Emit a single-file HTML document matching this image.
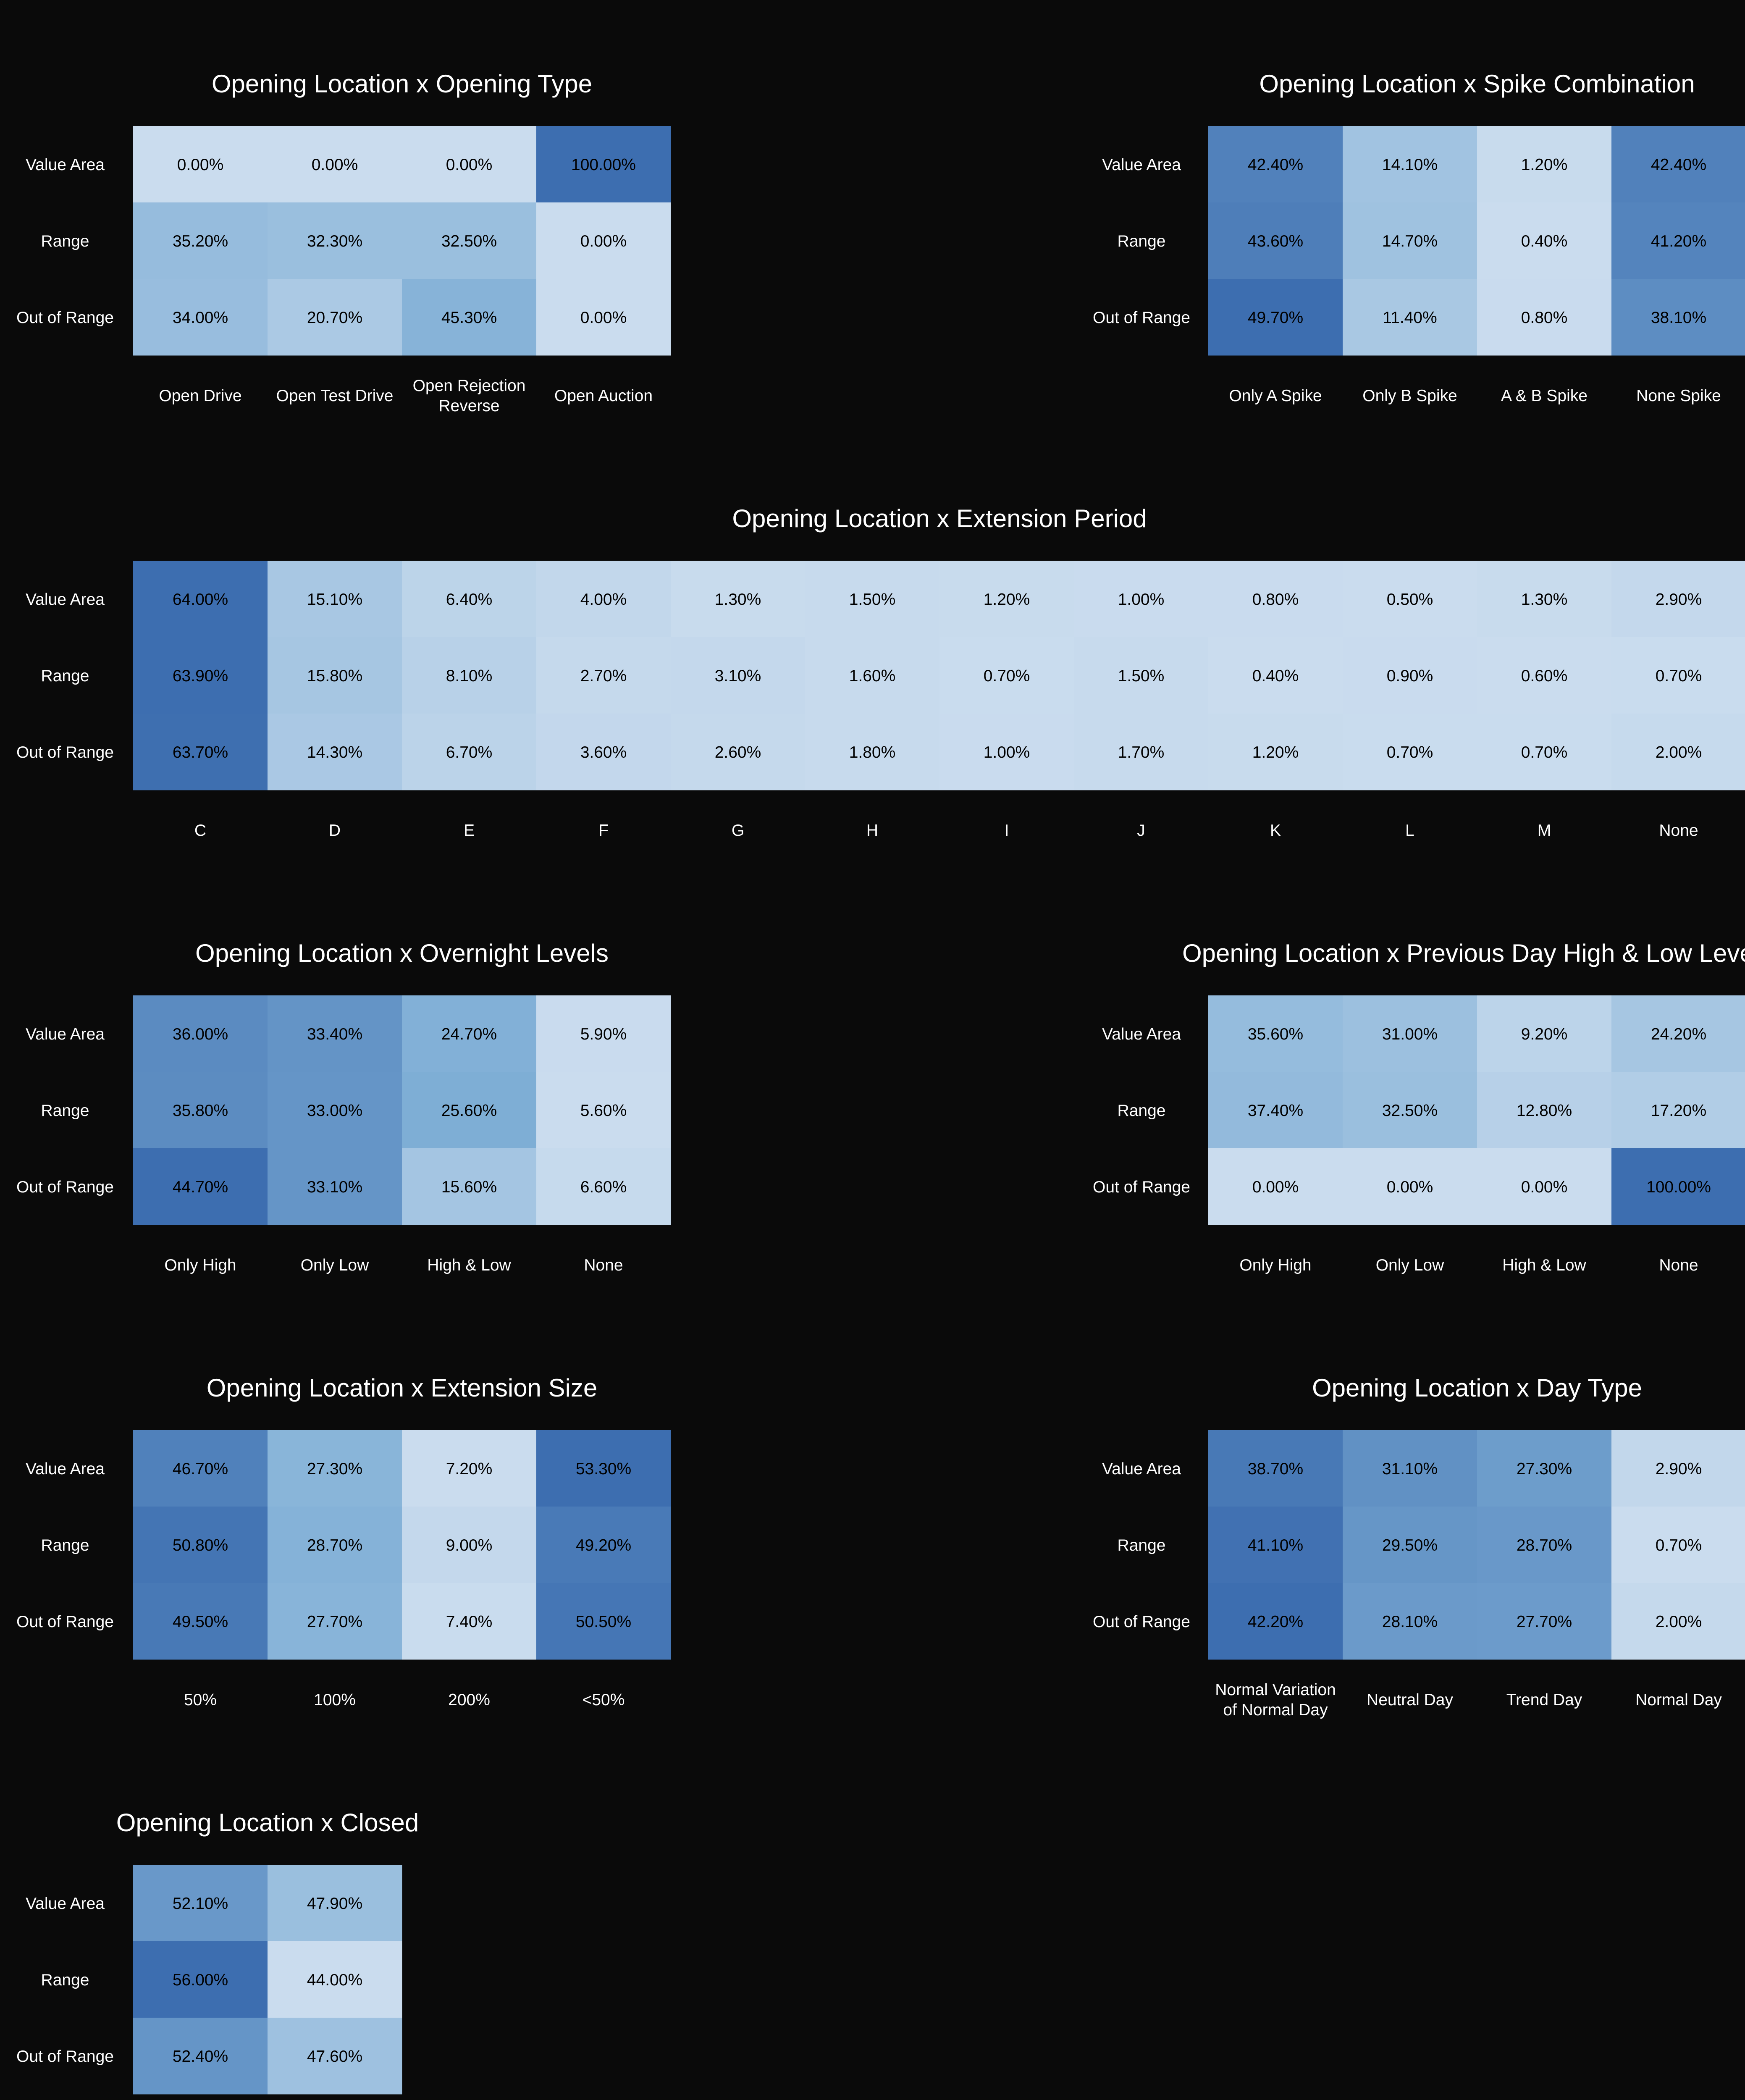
<!DOCTYPE html>
<html><head><meta charset="utf-8">
<style>
html,body{margin:0;padding:0;background:#0a0a0a;overflow:hidden;}
svg{display:block;}
</style></head>
<body>
<svg id="root" width="4155" height="5175" viewBox="0 0 4155 5175" xmlns="http://www.w3.org/2000/svg">
<rect x="0" y="0" width="4155" height="5175" fill="#0a0a0a"/>
</svg>
<script>
const rowLabels = ["Value Area", "Range", "Out of Range"];

const titles1 = "Opening Location x Opening Type";
const cats1 = [["Open Drive"], ["Open Test Drive"], ["Open Rejection", "Reverse"], ["Open Auction"]];
const vals1 = [[0, 0, 0, 100], [35.2, 32.3, 32.5, 0], [34.0, 20.7, 45.3, 0]];

const titles2 = "Opening Location x Spike Combination";
const cats2 = [["Only A Spike"], ["Only B Spike"], ["A & B Spike"], ["None Spike"]];
const vals2 = [[42.4, 14.1, 1.2, 42.4], [43.6, 14.7, 0.4, 41.2], [49.7, 11.4, 0.8, 38.1]];

const titles3 = "Opening Location x Extension Period";
const cats3 = [["C"], ["D"], ["E"], ["F"], ["G"], ["H"], ["I"], ["J"], ["K"], ["L"], ["M"], ["None"]];
const vals3 = [
  [64.0, 15.1, 6.4, 4.0, 1.3, 1.5, 1.2, 1.0, 0.8, 0.5, 1.3, 2.9],
  [63.9, 15.8, 8.1, 2.7, 3.1, 1.6, 0.7, 1.5, 0.4, 0.9, 0.6, 0.7],
  [63.7, 14.3, 6.7, 3.6, 2.6, 1.8, 1.0, 1.7, 1.2, 0.7, 0.7, 2.0]
];

const titles4 = "Opening Location x Overnight Levels";
const cats4 = [["Only High"], ["Only Low"], ["High & Low"], ["None"]];
const vals4 = [[36.0, 33.4, 24.7, 5.9], [35.8, 33.0, 25.6, 5.6], [44.7, 33.1, 15.6, 6.6]];

const titles5 = "Opening Location x Previous Day High & Low Levels";
const cats5 = [["Only High"], ["Only Low"], ["High & Low"], ["None"]];
const vals5 = [[35.6, 31.0, 9.2, 24.2], [37.4, 32.5, 12.8, 17.2], [0, 0, 0, 100]];

const titles6 = "Opening Location x Extension Size";
const cats6 = [["50%"], ["100%"], ["200%"], ["<50%"]];
const vals6 = [[46.7, 27.3, 7.2, 53.3], [50.8, 28.7, 9.0, 49.2], [49.5, 27.7, 7.4, 50.5]];

const titles7 = "Opening Location x Day Type";
const cats7 = [["Normal Variation", "of Normal Day"], ["Neutral Day"], ["Trend Day"], ["Normal Day"]];
const vals7 = [[38.7, 31.1, 27.3, 2.9], [41.1, 29.5, 28.7, 0.7], [42.2, 28.1, 27.7, 2.0]];

const titles8 = "Opening Location x Closed";
const cats8 = [["Value Area"], ["Range"]];
const vals8 = [[52.1, 47.9], [56.0, 44.0], [52.4, 47.6]];

const NS = "http://www.w3.org/2000/svg";
const root = document.getElementById("root");
const CW = 320, RH = 182;

function colorFor(t) {
  const s0 = [202, 220, 238], s1 = [128, 175, 214], s2 = [61, 110, 176];
  let a, b, u;
  if (t < 0.5) { a = s0; b = s1; u = t / 0.5; } else { a = s1; b = s2; u = (t - 0.5) / 0.5; }
  const c = a.map((v, i) => Math.round(v + (b[i] - v) * u));
  return "rgb(" + c.join(",") + ")";
}

function mk(tag, attrs, parent) {
  const el = document.createElementNS(NS, tag);
  for (const k in attrs) el.setAttribute(k, attrs[k]);
  parent.appendChild(el);
  return el;
}

function drawHeatmap(key, title, cats, vals, x0, y0, labelX) {
  const g = mk("g", {}, root);
  
  
  const flat = vals.flat();
  const mn = Math.min(...flat), mx = Math.max(...flat);
  const xScale = j => x0 + j * CW;
  const yScale = i => y0 + i * RH;
  const w = cats.length * CW;
  const t = mk("text", {x: x0 + w / 2, y: y0 - 80, "text-anchor": "middle", fill: "#ffffff",
    "font-family": "'Liberation Sans', sans-serif", "font-size": "60"}, g);
  t.textContent = title;
  
  
  vals.forEach((row, i) => {
    row.forEach((v, j) => {
      const tt = mx === mn ? 0 : (v - mn) / (mx - mn);
      const r = mk("rect", {x: xScale(j), y: yScale(i), width: CW + 0.5, height: RH + 0.5, fill: colorFor(tt)}, g);
      
      
      const tx = mk("text", {x: xScale(j) + CW / 2, y: yScale(i) + RH / 2 + 14, "text-anchor": "middle", fill: "#000000",
        "font-family": "'Liberation Sans', sans-serif", "font-size": "39"}, g);
      tx.textContent = v.toFixed(2) + "%";
      
      
    });
  });
  rowLabels.forEach((lab, i) => {
    const tx = mk("text", {x: labelX, y: yScale(i) + RH / 2 + 14, "text-anchor": "middle", fill: "#ffffff",
      "font-family": "'Liberation Sans', sans-serif", "font-size": "39"}, g);
    tx.textContent = lab;
    
    
  });
  cats.forEach((lines, j) => {
    const cy = y0 + 3 * RH + 95;
    const n = lines.length;
    lines.forEach((ln, k) => {
      const tx = mk("text", {x: xScale(j) + CW / 2, y: cy + 14 + (k - (n - 1) / 2) * 48, "text-anchor": "middle", fill: "#ffffff",
        "font-family": "'Liberation Sans', sans-serif", "font-size": "39"}, g);
      tx.textContent = ln;
      
      
    });
  });
}

drawHeatmap("opening-type", titles1, cats1, vals1, 317, 300, 155);
drawHeatmap("spike-combination", titles2, cats2, vals2, 2877, 300, 2718);
drawHeatmap("extension-period", titles3, cats3, vals3, 317, 1335, 155);
drawHeatmap("overnight-levels", titles4, cats4, vals4, 317, 2370, 155);
drawHeatmap("previous-day-levels", titles5, cats5, vals5, 2877, 2370, 2718);
drawHeatmap("extension-size", titles6, cats6, vals6, 317, 3405, 155);
drawHeatmap("day-type", titles7, cats7, vals7, 2877, 3405, 2718);
drawHeatmap("closed", titles8, cats8, vals8, 317, 4440, 155);
</script>
</body></html>
